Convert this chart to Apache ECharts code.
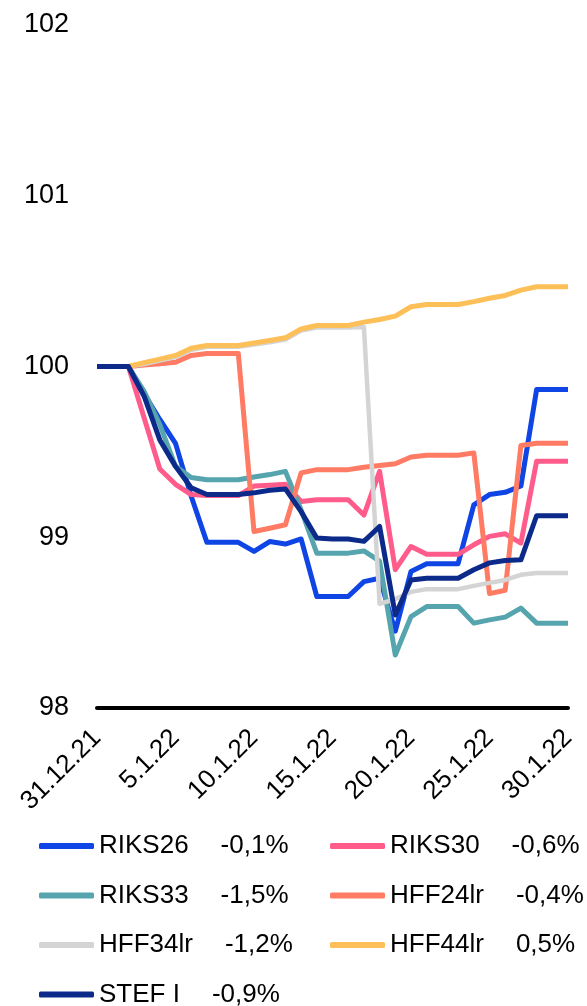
<!DOCTYPE html>
<html>
<head>
<meta charset="utf-8">
<script src="https://cdn.jsdelivr.net/npm/echarts@6/dist/echarts.min.js"></script>
<style>
html,body{margin:0;padding:0;background:#fff;}
#chart{width:587px;height:1006px;}
</style>
</head>
<body>
<div id="chart"></div>
<script>
const dates = ['31.12.21','1.1.22','2.1.22','3.1.22','4.1.22','5.1.22','6.1.22','7.1.22','8.1.22','9.1.22',
  '10.1.22','11.1.22','12.1.22','13.1.22','14.1.22','15.1.22','16.1.22','17.1.22','18.1.22','19.1.22',
  '20.1.22','21.1.22','22.1.22','23.1.22','24.1.22','25.1.22','26.1.22','27.1.22','28.1.22','29.1.22','30.1.22'];

const RIKS26 = [100,100,100,99.84,99.69,99.55,99.24,98.97,98.97,98.97,98.917,98.975,98.96,98.99,98.653,98.653,98.653,98.74,98.76,98.45,98.80,98.845,98.845,98.845,99.19,99.25,99.263,99.30,99.865,99.865,99.865];
const RIKS30 = [100,100,100,99.70,99.40,99.31,99.25,99.244,99.244,99.244,99.30,99.305,99.31,99.21,99.22,99.22,99.22,99.13,99.386,98.81,98.946,98.90,98.90,98.90,98.956,99.005,99.02,98.966,99.445,99.445,99.445];
const RIKS33 = [100,100,100,99.855,99.66,99.415,99.35,99.337,99.337,99.337,99.353,99.367,99.386,99.16,98.907,98.907,98.907,98.92,98.86,98.31,98.535,98.594,98.594,98.594,98.497,98.516,98.532,98.585,98.497,98.497,98.497];
const HFF24lr = [100,100,100,100.008,100.016,100.025,100.065,100.076,100.076,100.076,99.034,99.053,99.073,99.377,99.396,99.396,99.396,99.41,99.42,99.43,99.47,99.48,99.48,99.48,99.494,98.67,98.69,99.537,99.55,99.55,99.55];
const HFF34lr = [100,100,100,100.015,100.035,100.055,100.097,100.115,100.115,100.115,100.128,100.142,100.158,100.21,100.228,100.228,100.228,100.232,98.61,98.638,98.68,98.696,98.696,98.696,98.715,98.733,98.75,98.78,98.79,98.79,98.79];
const HFF44lr = [100,100,100,100.023,100.043,100.065,100.107,100.123,100.123,100.123,100.138,100.152,100.168,100.22,100.24,100.24,100.24,100.26,100.275,100.295,100.35,100.363,100.363,100.363,100.38,100.40,100.416,100.447,100.467,100.467,100.467];
const STEFI = [100,100,100,99.826,99.57,99.415,99.29,99.25,99.25,99.25,99.26,99.275,99.283,99.15,98.995,98.99,98.99,98.976,99.063,98.545,98.75,98.76,98.76,98.76,98.81,98.85,98.864,98.868,99.126,99.126,99.126];

const names = ['RIKS26','RIKS30','RIKS33','HFF24lr','HFF34lr','HFF44lr','STEF I'];
const changes = ['-0,1%','-0,6%','-1,5%','-0,4%','-1,2%','0,5%','-0,9%'];
const values = [RIKS26, RIKS30, RIKS33, HFF24lr, HFF34lr, HFF44lr, STEFI];
const colors = ['#0F45E4','#FF5C8B','#56A5AE','#FF7B63','#D4D4D4','#FDBF57','#0B2A8A'];
const yTicks = [98, 99, 100, 101, 102];

const FONT = 'Liberation Sans, Arial, Helvetica, sans-serif';
const chart = echarts.init(document.getElementById('chart'), null, {renderer: 'canvas'});

const legendBase = {
  orient: 'vertical',
  top: 833,
  height: 220,
  padding: 0,
  itemWidth: 55,
  itemHeight: 6,
  itemGap: 23.5,
  icon: 'roundRect',
  selectedMode: false,
  formatter: function (n) {
    return '{n|' + n + '}{p|' + changes[names.indexOf(n)] + '}';
  },
  textStyle: {
    fontFamily: FONT,
    fontSize: 26,
    color: '#000',
    lineHeight: 26,
    rich: {
      n: {fontFamily: FONT, fontSize: 26, color: '#000', lineHeight: 26},
      p: {fontFamily: FONT, fontSize: 26, color: '#000', lineHeight: 26, padding: [0, 0, 0, 32]}
    }
  }
};

chart.setOption({
  animation: false,
  backgroundColor: '#fff',
  grid: {left: 97, right: 19, top: 25, bottom: 298, containLabel: false},
  legend: [
    Object.assign({}, legendBase, {left: 39, data: [names[0], names[2], names[4], names[6]]}),
    Object.assign({}, legendBase, {left: 330, data: [names[1], names[3], names[5]]})
  ],
  xAxis: {
    type: 'category',
    data: dates,
    boundaryGap: false,
    axisLine: {show: true, lineStyle: {color: '#000', width: 4}},
    axisTick: {show: false},
    axisLabel: {
      interval: 4,
      rotate: 45,
      margin: 26,
      fontFamily: FONT,
      fontSize: 26,
      color: '#000'
    },
    splitLine: {show: false}
  },
  yAxis: {
    type: 'value',
    min: yTicks[0],
    max: yTicks[yTicks.length - 1],
    interval: 1,
    axisLine: {show: false},
    axisTick: {show: false},
    splitLine: {show: false},
    axisLabel: {
      margin: 28,
      fontFamily: FONT,
      fontSize: 27,
      color: '#000'
    }
  },
  series: names.map(function (n, i) {
    return {
      name: n,
      type: 'line',
      data: values[i],
      symbol: 'none',
      color: colors[i],
      lineStyle: {color: colors[i], width: i === 4 ? 4.5 : 5, join: 'round'},
      z: 2 + i
    };
  })
});
</script>
</body>
</html>
